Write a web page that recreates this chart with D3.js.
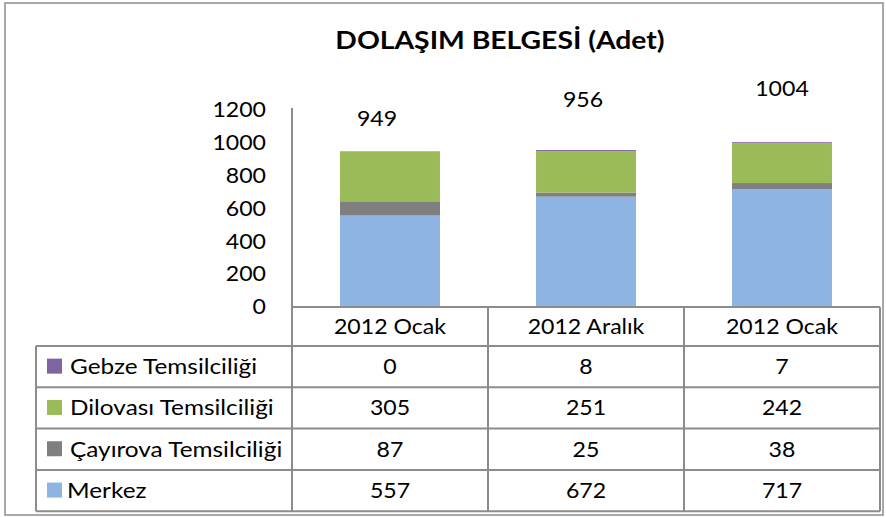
<!DOCTYPE html>
<html>
<head>
<meta charset="utf-8">
<script src="https://cdn.jsdelivr.net/npm/d3@7"></script>
<style>
  body { margin: 0; background: #fff; }
  svg text { font-family: Lato, "Open Sans", sans-serif; fill: #000; }
</style>
</head>
<body>
<svg id="chart"></svg>
<script>
// data
const categories = ["2012 Ocak", "2012 Aralık", "2012 Ocak"];
const seriesNames = ["Merkez", "Çayırova Temsilciliği", "Dilovası Temsilciliği", "Gebze Temsilciliği"];
const merkez = [557, 672, 717];
const cayirova = [87, 25, 38];
const dilovasi = [305, 251, 242];
const gebze = [0, 8, 7];
const totals = [949, 956, 1004];
const yTicks = [0, 200, 400, 600, 800, 1000, 1200];

const colors = ["#8eb4e3", "#7f7f7f", "#9bbb59", "#8064a2"];
// label nudges (px) relative to bar top / center
const labelNudge = [[-13, -33], [-3, -50], [0, -54]];

const width = 886, height = 517;
const plot = { left: 292, right: 880, top: 110, bottom: 307 };
const table = { left: 36, headerBottom: 346, rowH: 41.3 };
const lineColor = "#8c8c8c";

// Calibri-like text is wider than Lato: stretch horizontally
function stretch(sel, s) {
    sel.each(function() {
        const t = d3.select(this);
        const x = +t.attr("x") || 0, y = +t.attr("y") || 0;
        t.attr("x", 0).attr("y", 0).attr("transform", `translate(${x},${y}) scale(${s},1)`);
    });
}

const svg = d3.select("#chart").attr("width", width).attr("height", height);

// outer frame
svg.append("rect")
    .attr("x", 5).attr("y", 3)
    .attr("width", 878).attr("height", 512)
    .attr("fill", "#fff")
    .attr("stroke", lineColor).attr("stroke-width", 1.5);

// title
svg.append("text")
    .attr("class", "title")
    .attr("x", 500).attr("y", 49)
    .attr("text-anchor", "middle")
    .attr("font-size", "24px").attr("font-weight", "bold")
    .text("DOLAŞIM BELGESİ (Adet)");

const idx = categories.map((d, i) => i);
const xscale = d3.scaleBand().domain(idx).range([plot.left, plot.right]).padding(0);
const yscale = d3.scaleLinear().domain([0, 1200]).range([plot.bottom, plot.top]);
const barW = xscale.bandwidth() * 0.51;

const rows = idx.map(i => ({ i: i, merkez: merkez[i], cayirova: cayirova[i], dilovasi: dilovasi[i], gebze: gebze[i] }));
const keys = ["merkez", "cayirova", "dilovasi", "gebze"];
const stacked = d3.stack().keys(keys)(rows);

// bars
const chart = svg.append("g");
chart.selectAll("g.series")
    .data(stacked)
    .join("g")
    .attr("class", "series")
    .attr("fill", (d, k) => colors[k])
    .selectAll("rect")
    .data(d => d)
    .join("rect")
    .attr("x", d => xscale(d.data.i) + (xscale.bandwidth() - barW) / 2)
    .attr("y", d => yscale(d[1]))
    .attr("width", barW)
    .attr("height", d => yscale(d[0]) - yscale(d[1]));

// y axis
const yaxis = d3.axisLeft(yscale).tickValues(yTicks).tickSize(0).tickPadding(26).tickFormat(d3.format("d"));
const yg = svg.append("g").attr("transform", `translate(${plot.left},0)`).call(yaxis);
yg.select(".domain").remove();
yg.selectAll("text").attr("font-size", "21px").attr("font-family", "Lato, sans-serif").attr("fill", "#000");

// total labels
svg.selectAll("text.total")
    .data(totals)
    .join("text")
    .attr("class", "total")
    .attr("x", (d, i) => xscale(i) + xscale.bandwidth() / 2 + labelNudge[i][0])
    .attr("y", (d, i) => yscale(d) + labelNudge[i][1])
    .attr("dy", "0.35em")
    .attr("text-anchor", "middle")
    .attr("font-size", "21px")
    .text(d => d);

// data table
const tableRows = [
    { name: seriesNames[3], vals: gebze, color: colors[3] },
    { name: seriesNames[2], vals: dilovasi, color: colors[2] },
    { name: seriesNames[1], vals: cayirova, color: colors[1] },
    { name: seriesNames[0], vals: merkez, color: colors[0] }
];
const tableBottom = table.headerBottom + table.rowH * tableRows.length;
const lines = svg.append("g").attr("stroke", lineColor).attr("stroke-width", 2);

// axis line + header row
lines.append("line").attr("x1", plot.left).attr("x2", plot.left).attr("y1", 108).attr("y2", tableBottom);
lines.append("line").attr("x1", plot.left).attr("x2", plot.right).attr("y1", plot.bottom).attr("y2", plot.bottom);
idx.forEach(i => {
    const xr = xscale(i) + xscale.bandwidth();
    lines.append("line").attr("x1", xr).attr("x2", xr).attr("y1", plot.bottom).attr("y2", tableBottom);
});
// row lines
d3.range(tableRows.length + 1).forEach(r => {
    const y = table.headerBottom + r * table.rowH;
    lines.append("line").attr("x1", table.left).attr("x2", plot.right).attr("y1", y).attr("y2", y);
});
lines.append("line").attr("x1", table.left).attr("x2", table.left).attr("y1", table.headerBottom).attr("y2", tableBottom);

// header labels
svg.selectAll("text.cat")
    .data(categories)
    .join("text")
    .attr("class", "cat")
    .attr("x", (d, i) => xscale(i) + xscale.bandwidth() / 2)
    .attr("y", (plot.bottom + table.headerBottom) / 2)
    .attr("dy", "0.35em")
    .attr("text-anchor", "middle")
    .attr("font-size", "21px")
    .text(d => d);

// table rows
const tr = svg.selectAll("g.trow")
    .data(tableRows)
    .join("g")
    .attr("class", "trow")
    .attr("transform", (d, r) => `translate(0, ${table.headerBottom + r * table.rowH + table.rowH / 2})`);

tr.append("rect")
    .attr("x", 47).attr("y", -8)
    .attr("width", 15).attr("height", 15)
    .attr("fill", d => d.color);

tr.append("text")
    .attr("class", "lbl")
    .attr("x", (d, r) => r === 3 ? 67 : 70)
    .attr("dy", "0.35em")
    .attr("font-size", "21px")
    .text(d => d.name);

tr.selectAll("text.val")
    .data(d => d.vals)
    .join("text")
    .attr("class", "val")
    .attr("x", (d, i) => xscale(i) + xscale.bandwidth() / 2)
    .attr("dy", "0.35em")
    .attr("text-anchor", "middle")
    .attr("font-size", "21px")
    .text(d => d);

stretch(svg.selectAll("text.title"), 1.18);
stretch(svg.selectAll("text.lbl"), 1.16);
stretch(svg.selectAll("text.val, text.cat, text.total"), 1.1);
stretch(yg.selectAll("text"), 1.1);
</script>
</body>
</html>
